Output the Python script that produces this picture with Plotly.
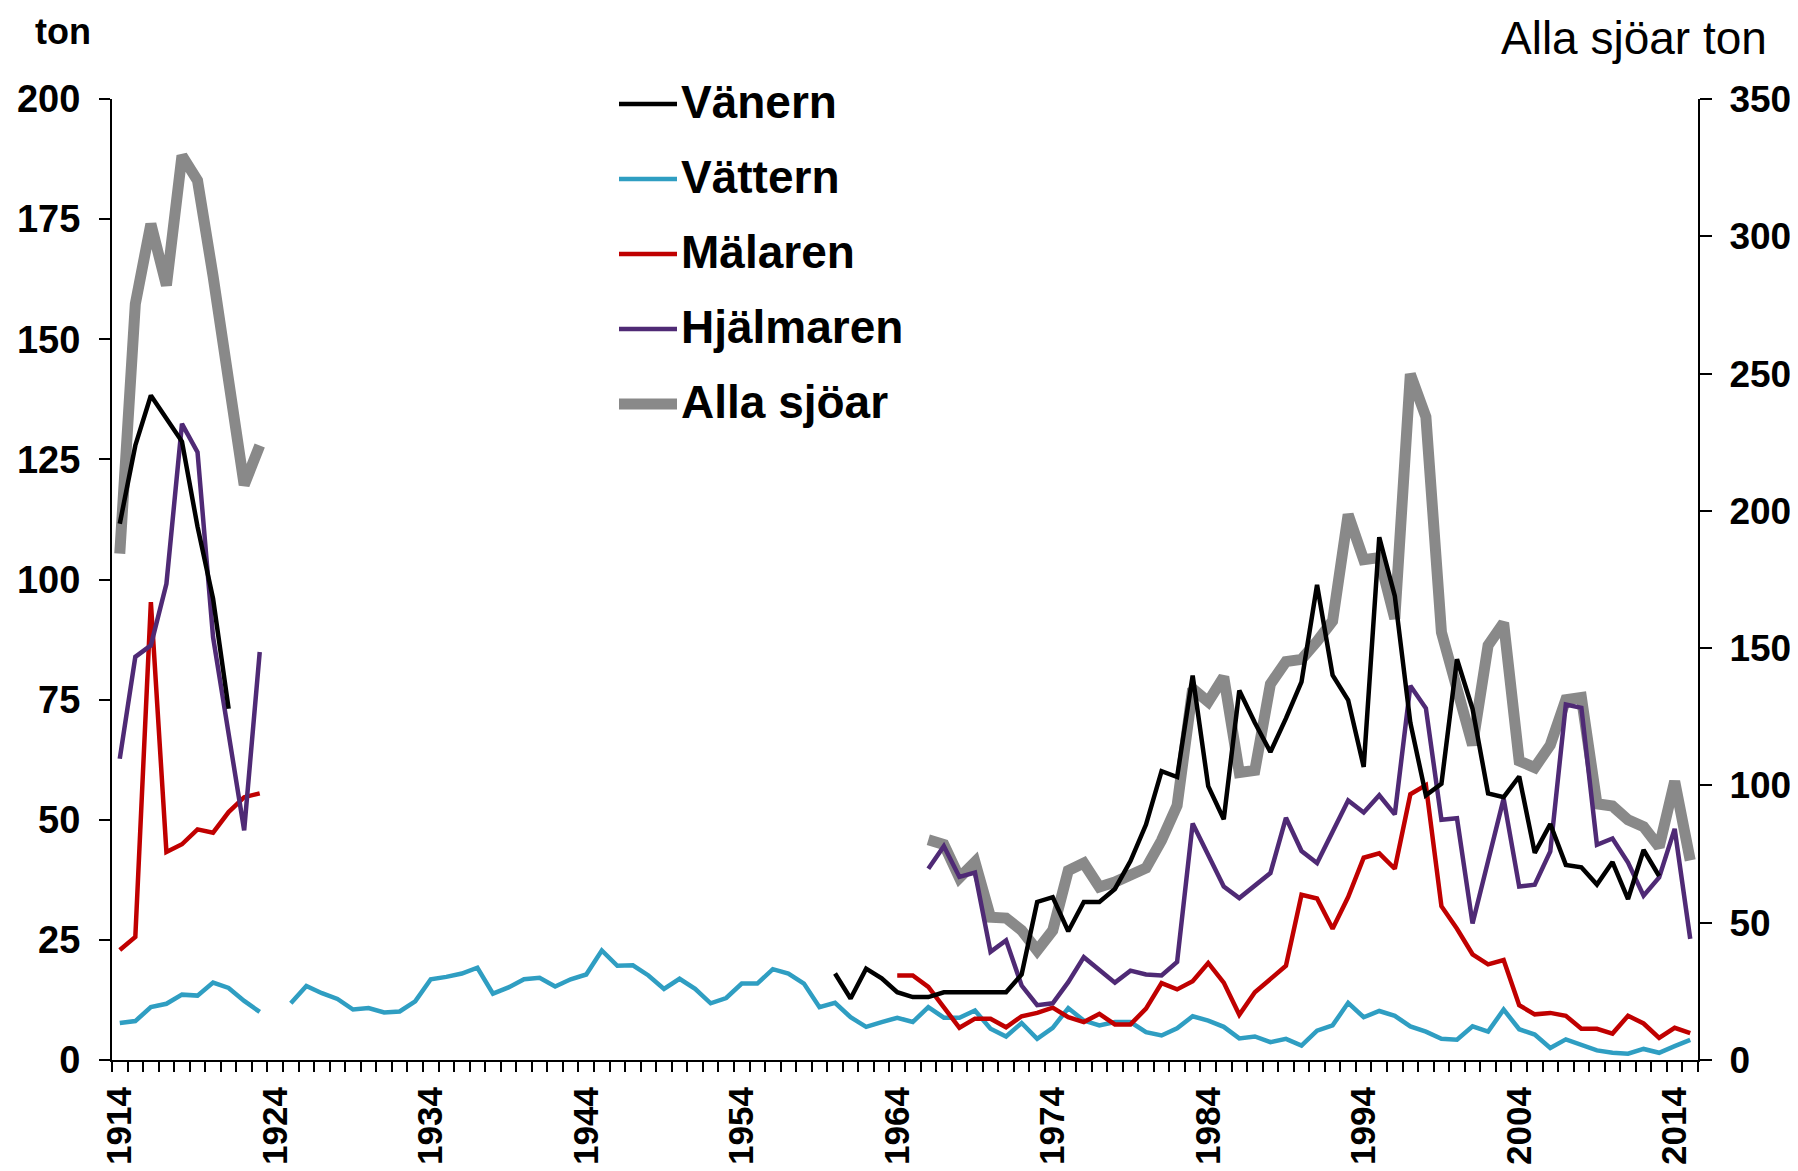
import plotly.graph_objects as go

# ---------------- data (ton per year) ----------------
VANERN_START_A, VANERN_A = 1914, [111.6, 127.9, 138.3, 133.5, 128.7, 111.0, 96.0, 73.1]
VANERN_START_B, VANERN_B = 1960, [
    18.0, 12.8, 19.0, 17.0, 14.1, 13.1, 13.1, 14.1, 14.1, 14.1,
    14.1, 14.1, 17.8, 32.9, 33.9, 26.8, 32.9, 32.9, 35.6, 41.4,
    49.0, 60.1, 58.9, 80.0, 57.0, 50.1, 76.9, 70.2, 64.1, 71.1,
    78.7, 98.9, 80.1, 74.9, 61.0, 108.8, 96.6, 70.2, 55.1, 57.5,
    83.4, 73.1, 55.5, 54.7, 59.0, 43.1, 49.1, 40.6, 40.1, 36.5,
    41.2, 33.5, 43.7, 38.3]

VATTERN_START_A, VATTERN_A = 1914, [7.7, 8.1, 11.0, 11.7, 13.6, 13.4, 16.1, 15.0, 12.3, 10.0]
VATTERN_START_B, VATTERN_B = 1925, [
    11.8, 15.4, 13.9, 12.7, 10.5, 10.8, 9.9, 10.1, 12.2, 16.8,
    17.3, 18.0, 19.2, 13.8, 15.1, 16.8, 17.1, 15.3, 16.8, 17.8,
    22.8, 19.6, 19.7, 17.6, 14.8, 16.9, 14.8, 11.8, 12.9, 15.9,
    15.9, 18.9, 18.0, 15.9, 11.0, 11.9, 8.9, 6.9, 7.9, 8.8,
    7.9, 11.0, 8.8, 8.8, 10.3, 6.5, 4.9, 7.7, 4.4, 6.7,
    10.8, 8.2, 7.2, 7.9, 7.9, 5.8, 5.1, 6.6, 9.1, 8.2,
    6.9, 4.5, 4.9, 3.7, 4.4, 3.0, 6.1, 7.2, 11.9, 8.9,
    10.2, 9.2, 7.0, 5.9, 4.4, 4.2, 7.0, 5.9, 10.5, 6.4,
    5.3, 2.5, 4.3, 3.1, 2.0, 1.5, 1.3, 2.3, 1.5, 2.9,
    4.2]

MALAREN_START_A, MALAREN_A = 1914, [22.9, 25.6, 95.3, 43.3, 44.9, 48.0, 47.3, 51.6, 54.7, 55.5]
MALAREN_START_B, MALAREN_B = 1964, [
    17.6, 17.6, 15.2, 11.0, 6.7, 8.6, 8.6, 6.8, 9.1, 9.8,
    10.9, 8.9, 7.9, 9.6, 7.4, 7.4, 10.7, 16.0, 14.7, 16.4,
    20.2, 16.1, 9.4, 14.1, 16.9, 19.6, 34.4, 33.6, 27.3, 33.9,
    42.1, 43.0, 39.8, 55.3, 57.2, 32.0, 27.3, 22.0, 19.9, 20.8,
    11.4, 9.5, 9.8, 9.2, 6.5, 6.5, 5.5, 9.2, 7.6, 4.6,
    6.7, 5.6]

HJALMAREN_START_A, HJALMAREN_A = 1914, [62.7, 83.9, 86.3, 99.1, 132.4, 126.5, 88.0, 67.5, 47.8, 84.9]
HJALMAREN_START_B, HJALMAREN_B = 1966, [
    39.8, 44.5, 38.1, 39.0, 22.5, 24.9, 15.5, 11.4,
    11.8, 16.2, 21.4, 18.6, 16.1, 18.6, 17.8, 17.6, 20.4, 49.2,
    42.6, 36.1, 33.7, 36.3, 38.9, 50.4, 43.5, 41.0, 47.6, 54.0,
    51.5, 55.1, 51.1, 77.9, 73.2, 50.0, 50.3, 28.4, 41.4, 54.4,
    36.1, 36.5, 43.4, 74.0, 73.3, 44.8, 46.1, 41.1, 34.2, 38.0,
    48.1, 25.2]

ALLA_START_A, ALLA_A = 1914, [184.4, 275.4, 304.5, 282.1, 329.4, 320.3, 285.5, 246.5, 209.4, 223.8]
ALLA_START_B, ALLA_B = 1966, [
    80.2, 78.5, 66.4, 72.1, 52.0, 51.7, 47.2, 39.9,
    47.2, 69.0, 71.7, 63.0, 64.8, 67.2, 69.9, 80.0, 92.7, 135.2,
    130.5, 139.5, 104.7, 105.5, 136.9, 145.1, 145.9, 152.5, 159.9, 198.7,
    182.2, 183.0, 160.7, 249.8, 234.2, 155.8, 134.0, 114.7, 151.0, 159.2,
    108.9, 106.5, 114.7, 131.2, 132.0, 93.3, 92.5, 87.5, 85.0, 77.6,
    101.5, 72.7]

TICK_YEARS = [1914, 1924, 1934, 1944, 1954, 1964, 1974, 1984, 1994, 2004, 2014]
TICK_LABELS = ["1914", "1924", "1934", "1944", "1954", "1964", "1974", "1984", "1994", "2004", "2014"]
LEFT_TICKS = [0, 25, 50, 75, 100, 125, 150, 175, 200]
RIGHT_TICKS = [0, 50, 100, 150, 200, 250, 300, 350]

NAMES = ["Vänern", "Vättern", "Mälaren", "Hjälmaren", "Alla sjöar"]
COLORS = ["#000000", "#2F9EC2", "#C00000", "#4F2A75", "#898989"]

# ---------------- helpers ----------------
def segs(sa, a, sb, b):
    xs = [sa + i for i in range(len(a))] + [None] + [sb + i for i in range(len(b))]
    ys = list(a) + [None] + list(b)
    return xs, ys

FONT = "Liberation Sans, Arial, sans-serif"
OFF = 8                      # default page (body) margin of the browser
W, H = 1798 - OFF, 1171 - OFF
# target plot area in page pixels: x 112..1698, y 99..1060
ML, MT = 112 - OFF, 99 - OFF
MR = W - (1698 - OFF)
MB = H - (1060 - OFF)
PW, PH = W - ML - MR, H - MT - MB

def px(x):  # page pixel -> paper x
    return (x - OFF - ML) / PW

def py(y):  # page pixel -> paper y
    return (H - MB - (y - OFF)) / PH

fig = go.Figure()

# Alla sjöar on primary (right-side) axis so it is drawn beneath the lakes
x, y = segs(ALLA_START_A, ALLA_A, ALLA_START_B, ALLA_B)
fig.add_trace(go.Scatter(x=x, y=y, mode="lines", name=NAMES[4], yaxis="y",
                         line=dict(color=COLORS[4], width=11), showlegend=False))

series = [
    (VANERN_START_A, VANERN_A, VANERN_START_B, VANERN_B),
    (VATTERN_START_A, VATTERN_A, VATTERN_START_B, VATTERN_B),
    (MALAREN_START_A, MALAREN_A, MALAREN_START_B, MALAREN_B),
    (HJALMAREN_START_A, HJALMAREN_A, HJALMAREN_START_B, HJALMAREN_B),
]
draw_order = [1, 2, 3, 0]
for i in draw_order:
    x, y = segs(*series[i])
    fig.add_trace(go.Scatter(x=x, y=y, mode="lines", name=NAMES[i], yaxis="y2",
                             line=dict(color=COLORS[i], width=4.5), showlegend=False))

fig.update_layout(
    template="none",
    width=W, height=H,
    margin=dict(l=ML, r=MR, t=MT, b=MB, autoexpand=False),
    paper_bgcolor="white", plot_bgcolor="white",
    showlegend=False,
    xaxis=dict(
        automargin=False,
        range=[1913.5, 2015.5],
        tickmode="array", tickvals=TICK_YEARS, ticktext=TICK_LABELS,
        ticks="", tickangle=-90, tickfont=dict(family=FONT, size=35, color="black", weight="bold"),
        ticklabelstandoff=11,
        showline=True, linecolor="black", linewidth=2,
        showgrid=False, zeroline=False,
        minor=dict(ticks="outside", tick0=1913.5, dtick=1, ticklen=10,
                   tickwidth=1.5, tickcolor="black", showgrid=False),
    ),
    yaxis=dict(
        automargin=False,
        side="right", range=[0, 350], tickmode="array", tickvals=RIGHT_TICKS,
        ticks="outside", ticklen=12, tickwidth=2, tickcolor="black",
        tickfont=dict(family=FONT, size=37, color="black", weight="bold"), ticklabelstandoff=10,
        showline=True, linecolor="black", linewidth=2,
        showgrid=False, zeroline=False,
    ),
    yaxis2=dict(
        automargin=False,
        side="left", overlaying="y", range=[0, 200], tickmode="array", tickvals=LEFT_TICKS,
        ticks="outside", ticklen=11, tickwidth=2, tickcolor="black",
        tickfont=dict(family=FONT, size=38, color="black", weight="bold"), ticklabelstandoff=11,
        showline=True, linecolor="black", linewidth=2,
        showgrid=False, zeroline=False,
    ),
)

annotations = [
    dict(text="ton", x=px(63), y=py(32), xref="paper", yref="paper",
         xanchor="center", yanchor="middle", showarrow=False,
         font=dict(family=FONT, size=36, color="black", weight="bold")),
    dict(text="Alla sjöar ton", x=px(1769), y=py(38), xref="paper", yref="paper",
         xanchor="right", yanchor="middle", showarrow=False,
         font=dict(family=FONT, size=46, color="black")),
]
shapes = []
legend_y = [102, 177, 252, 327, 402]
legend_w = [4.5, 4.5, 4.5, 4.5, 11]
for i, name in enumerate(NAMES):
    shapes.append(dict(type="line", xref="paper", yref="paper",
                       x0=px(619), x1=px(677), y0=py(legend_y[i] + 2), y1=py(legend_y[i] + 2),
                       line=dict(color=COLORS[i], width=legend_w[i])))
    annotations.append(dict(text=name, x=px(679), y=py(legend_y[i]), xref="paper", yref="paper",
                            xanchor="left", yanchor="middle", showarrow=False,
                            font=dict(family=FONT, size=46, color="black", weight="bold")))

fig.update_layout(annotations=annotations, shapes=shapes)
fig.write_html("out.html")
